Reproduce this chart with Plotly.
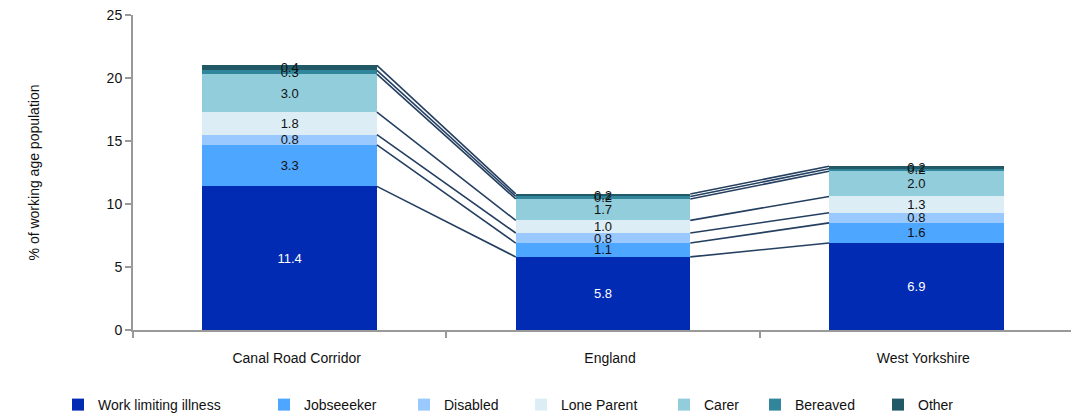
import numpy as np
import plotly.graph_objects as go

# ---------------- data ----------------
categories = ["Canal Road Corridor", "England", "West Yorkshire"]
series_names = ["Work limiting illness", "Jobseeeker", "Disabled", "Lone Parent",
                "Carer", "Bereaved", "Other"]
work_limiting = [11.4, 5.8, 6.9]
jobseeker = [3.3, 1.1, 1.6]
disabled = [0.8, 0.8, 0.8]
lone_parent = [1.8, 1.0, 1.3]
carer = [3.0, 1.7, 2.0]
bereaved = [0.3, 0.2, 0.2]
other = [0.4, 0.2, 0.2]
y_tick_values = [0, 5, 10, 15, 20, 25]
y_axis_title = "% of working age population"

series_values = [work_limiting, jobseeker, disabled, lone_parent, carer, bereaved, other]

# ---------------- styles ----------------
colors = ["#002bb2", "#4da6ff", "#99c9ff", "#dcedf5", "#92cddc", "#31869b", "#215967"]
text_colors = ["#ffffff"] + ["#111111"] * 6
line_color = "#243f60"
font_family = "Liberation Sans, Arial, sans-serif"
bar_width = 0.557

# layout geometry (figure pixels; page body adds an 8px offset)
OFF = 8
W, H = 1079 - OFF, 417 - OFF
ML, MT = 133 - OFF, 15 - OFF
plot_right, plot_bottom = 1073 - OFF, 330 - OFF
MR, MB = W - plot_right, H - plot_bottom
plot_w = plot_right - ML
plot_h = plot_bottom - MT
legend_icon_left = [77, 283, 423, 540, 683, 774, 897]
legend_center_y = 405

fig = go.Figure()

for i, (name, vals) in enumerate(zip(series_names, series_values)):
    fig.add_trace(go.Bar(
        x=categories, y=vals, name=name,
        marker=dict(color=colors[i], line=dict(width=0)),
        width=bar_width,
        text=[f"{v:.1f}" for v in vals],
        textposition="inside", insidetextanchor="middle",
        textangle=0, constraintext="none",
        textfont=dict(color=text_colors[i], size=13, family=font_family),
        cliponaxis=False,
        legend="legend" if i == 0 else f"legend{i+1}",
    ))

# connector lines between bars (from cumulative stack tops)
cum = np.cumsum(np.array(series_values), axis=0)  # shape (series, categories)
n_cat = len(categories)
for k in range(cum.shape[0]):
    xs, ys = [], []
    for c in range(n_cat - 1):
        xs += [c + bar_width / 2, c + 1 - bar_width / 2, None]
        ys += [cum[k, c], cum[k, c + 1], None]
    fig.add_trace(go.Scatter(
        x=xs, y=ys, xaxis="x2", mode="lines",
        line=dict(color=line_color, width=1.6),
        showlegend=False, hoverinfo="skip",
    ))

layout_legends = {}
for i in range(len(series_names)):
    key = "legend" if i == 0 else f"legend{i+1}"
    layout_legends[key] = dict(
        x=(legend_icon_left[i] - OFF - 19 - ML) / plot_w,
        y=(plot_bottom - (legend_center_y - OFF)) / plot_h,
        xanchor="left", yanchor="middle",
        orientation="h", bgcolor="rgba(0,0,0,0)",
        font=dict(size=14, color="#111111", family=font_family),
    )

fig.update_layout(
    width=W, height=H,
    margin=dict(l=ML, r=MR, t=MT, b=MB, pad=0, autoexpand=False),
    barmode="stack",
    plot_bgcolor="white", paper_bgcolor="white",
    font=dict(family=font_family, size=14, color="#111111"),
    xaxis=dict(
        type="category", range=[-0.5, n_cat - 0.5], automargin=False,
        tickson="boundaries", ticks="outside", ticklen=6, tickwidth=2, tickcolor="#999999",
        showline=True, linecolor="#999999", linewidth=2,
        showgrid=False, zeroline=False,
        tickfont=dict(size=14, color="#111111"),
        ticklabelshift=7, ticklabelstandoff=14,
    ),
    xaxis2=dict(
        overlaying="x", range=[-0.5, n_cat - 0.5], visible=False,
    ),
    yaxis=dict(
        range=[0, 25], tickvals=y_tick_values, automargin=False,
        ticklabeloverflow="allow",
        ticks="outside", ticklen=6, tickwidth=2, tickcolor="#999999",
        showline=True, linecolor="#999999", linewidth=2,
        showgrid=False, zeroline=False,
        tickfont=dict(size=14, color="#111111"),
        title=dict(text=y_axis_title, font=dict(size=14, color="#111111"), standoff=64),
    ),
    **layout_legends,
)

fig.write_html("out.html")
